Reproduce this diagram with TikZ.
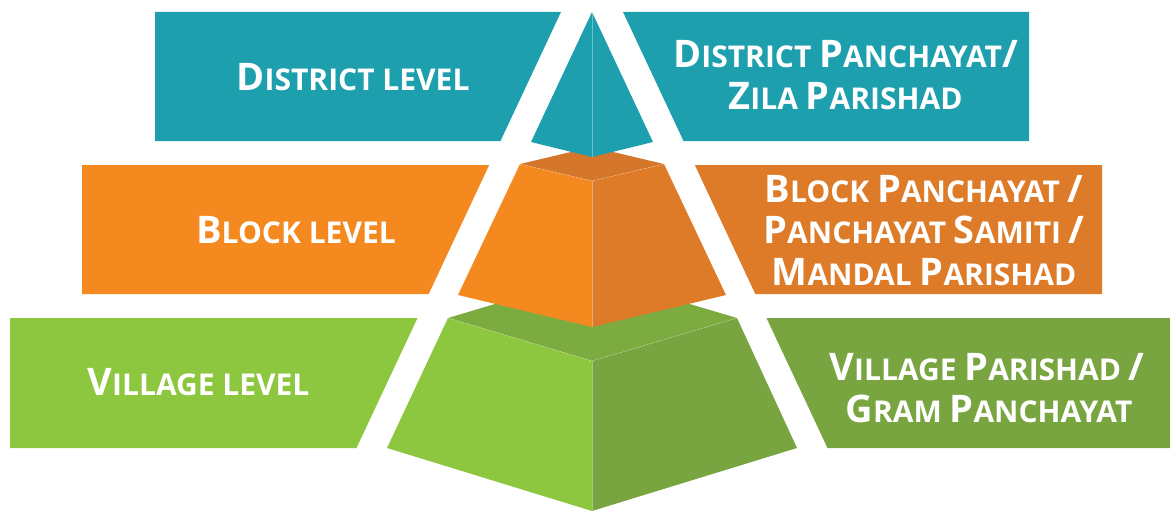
\documentclass[tikz,border=0pt]{standalone}
\usepackage{fontspec}
\setmainfont{Open Sans}
\definecolor{teal1}{HTML}{1E9FAE}
\definecolor{orL}{HTML}{F4891F}
\definecolor{orR}{HTML}{DE7B28}
\definecolor{orT}{HTML}{D5772A}
\definecolor{grL}{HTML}{8DC63F}
\definecolor{grR}{HTML}{78A540}
\definecolor{grT}{HTML}{7CAB40}
\newcommand\capB[1]{{\fontsize{38}{44}\selectfont #1}}
\newcommand\capS[1]{{\fontsize{30}{44}\selectfont #1}}
\tikzset{
  lbl/.style={text=white, font=\bfseries\fontsize{30}{44}\selectfont, anchor=base, inner sep=0pt},
  edge/.style={white, opacity=0.35, line width=0.6pt},
}
\begin{document}
\begin{tikzpicture}[x=1pt,y=-1pt]
\useasboundingbox (0,0) rectangle (1170,511);
% bands
\fill[teal1] (155,12) -- (561,12) -- (500.5,141) -- (155,141) -- cycle;
\fill[teal1] (623,12) -- (1029,12) -- (1029,141) -- (683.5,141) -- cycle;
\fill[orL] (82,165) -- (489.2,165) -- (428.7,294) -- (82,294) -- cycle;
\fill[orR] (694.8,165) -- (1102,165) -- (1102,294) -- (755.3,294) -- cycle;
\fill[grL] (10,318) -- (417.5,318) -- (356.5,448) -- (10,448) -- cycle;
\fill[grR] (766.5,318) -- (1170,318) -- (1170,448) -- (827.5,448) -- cycle;
% green block
\coordinate (gl) at (448,318); \coordinate (gb) at (592,275);
\coordinate (gr) at (737,318); \coordinate (gf) at (592,361);
\coordinate (gbl) at (387,448); \coordinate (gbf) at (592,511); \coordinate (gbr) at (797,448);
\fill[grT] (gl) -- (gb) -- (gr) -- (gf) -- cycle;
\fill[grL] (gl) -- (gf) -- (gbf) -- (gbl) -- cycle;
\fill[grR] (gr) -- (gf) -- (gbf) -- (gbr) -- cycle;
\draw[edge, dashed, dash pattern=on 2pt off 1pt] (gl) -- (gf) -- (gr);
\draw[edge] (gf) -- (gbf);
% orange block
\coordinate (ol) at (520,164); \coordinate (ob) at (592,147);
\coordinate (or) at (664,164); \coordinate (of) at (592,181);
\coordinate (obl) at (458,295); \coordinate (obf) at (592,327); \coordinate (obr) at (726,295);
\fill[orT] (ol) -- (ob) -- (or) -- (of) -- cycle;
\fill[orL] (ol) -- (of) -- (obf) -- (obl) -- cycle;
\fill[orR] (or) -- (of) -- (obf) -- (obr) -- cycle;
\draw[edge, dashed, dash pattern=on 2pt off 1pt] (ol) -- (of) -- (or);
\draw[edge] (of) -- (obf);
% teal top
\coordinate (ta) at (592,12); \coordinate (tl) at (531,142);
\coordinate (tf) at (592,157); \coordinate (tr) at (653,142);
\fill[teal1] (ta) -- (tl) -- (tf) -- (tr) -- cycle;
\draw[edge] (ta) -- (tf);
% labels left
\node[lbl] (dl) at (353,90) {\capB{D}\capS{ISTRICT LEVEL}};
\node[lbl] (bl) at (296,243) {\capB{B}\capS{LOCK LEVEL}};
\node[lbl] (vl) at (198.5,395) {\capB{V}\capS{ILLAGE LEVEL}};
% labels right
\node[lbl] (dr1) at (845.5,68) {\capB{D}\capS{ISTRICT }\capB{P}\capS{ANCHAYAT}\capB{/}};
\node[lbl] (dr2) at (845.5,110) {\capB{Z}\capS{ILA }\capB{P}\capS{ARISHAD}};
\node[lbl] (br1) at (924,202) {\capB{B}\capS{LOCK }\capB{P}\capS{ANCHAYAT }\capB{/}};
\node[lbl] (br2) at (924,243) {\capB{P}\capS{ANCHAYAT }\capB{S}\capS{AMITI }\capB{/}};
\node[lbl] (br3) at (924,285) {\capB{M}\capS{ANDAL }\capB{P}\capS{ARISHAD}};
\node[lbl] (vr1) at (987,380) {\capB{V}\capS{ILLAGE }\capB{P}\capS{ARISHAD }\capB{/}};
\node[lbl] (vr2) at (989,422) {\capB{G}\capS{RAM }\capB{P}\capS{ANCHAYAT}};
\end{tikzpicture}
\end{document}
